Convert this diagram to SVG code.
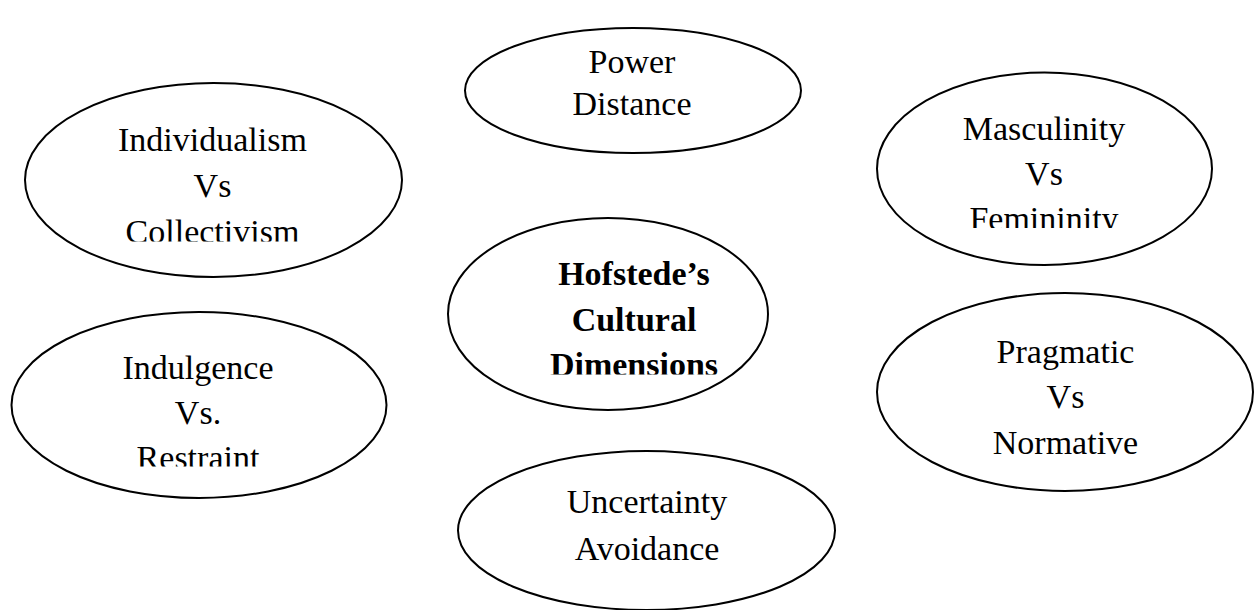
<svg xmlns="http://www.w3.org/2000/svg" width="1254" height="610" viewBox="0 0 1254 610">
<style>
.n{fill:#fff;stroke:#000;stroke-width:2}
.t{font-family:'Liberation Serif',serif;font-size:34px;fill:#000;text-anchor:middle}
.b{font-weight:bold}
</style>
<defs>
<clipPath id="c1"><rect x="0" y="100" width="420" height="141.5"/></clipPath>
<clipPath id="c2"><rect x="860" y="90" width="394" height="138"/></clipPath>
<clipPath id="c3"><rect x="0" y="330" width="420" height="136.5"/></clipPath>
<clipPath id="c4"><rect x="440" y="230" width="340" height="144.5"/></clipPath>
</defs>
<rect width="1254" height="610" fill="#fff"/>
<g id="connectors"></g>
<g id="power-distance">
<ellipse class="n" cx="633" cy="90.5" rx="168" ry="62.5"/>
<text class="t" x="632" y="73">Power</text>
<text class="t" x="632" y="115">Distance</text>
</g>
<g id="individualism">
<ellipse class="n" cx="213.5" cy="180" rx="188.5" ry="97"/>
<g clip-path="url(#c1)">
<text class="t" x="212.5" y="150.5">Individualism</text>
<text class="t" x="212.5" y="196.5">Vs</text>
<text class="t" x="212.5" y="242.5">Collectivism</text>
</g>
</g>
<g id="masculinity">
<ellipse class="n" cx="1044.5" cy="168.8" rx="167.5" ry="96.3"/>
<g clip-path="url(#c2)">
<text class="t" x="1044" y="140">Masculinity</text>
<text class="t" x="1044" y="185">Vs</text>
<text class="t" x="1044" y="230">Femininity</text>
</g>
</g>
<g id="hofstede">
<ellipse class="n" cx="608" cy="314" rx="160" ry="96"/>
<g clip-path="url(#c4)">
<text class="t b" x="634" y="285">Hofstede’s</text>
<text class="t b" x="634" y="330.5">Cultural</text>
<text class="t b" x="634" y="376">Dimensions</text>
</g>
</g>
<g id="indulgence">
<ellipse class="n" cx="199" cy="405" rx="187.5" ry="93"/>
<g clip-path="url(#c3)">
<text class="t" x="198" y="379">Indulgence</text>
<text class="t" x="198" y="424">Vs.</text>
<text class="t" x="198" y="469">Restraint</text>
</g>
</g>
<g id="pragmatic">
<ellipse class="n" cx="1065" cy="392" rx="188" ry="99"/>
<text class="t" x="1065.5" y="363.3">Pragmatic</text>
<text class="t" x="1065.5" y="408.3">Vs</text>
<text class="t" x="1065.5" y="454">Normative</text>
</g>
<g id="uncertainty">
<ellipse class="n" cx="646.5" cy="530.5" rx="188.5" ry="79.5"/>
<text class="t" x="647" y="513.3">Uncertainty</text>
<text class="t" x="647" y="560">Avoidance</text>
</g>
</svg>
